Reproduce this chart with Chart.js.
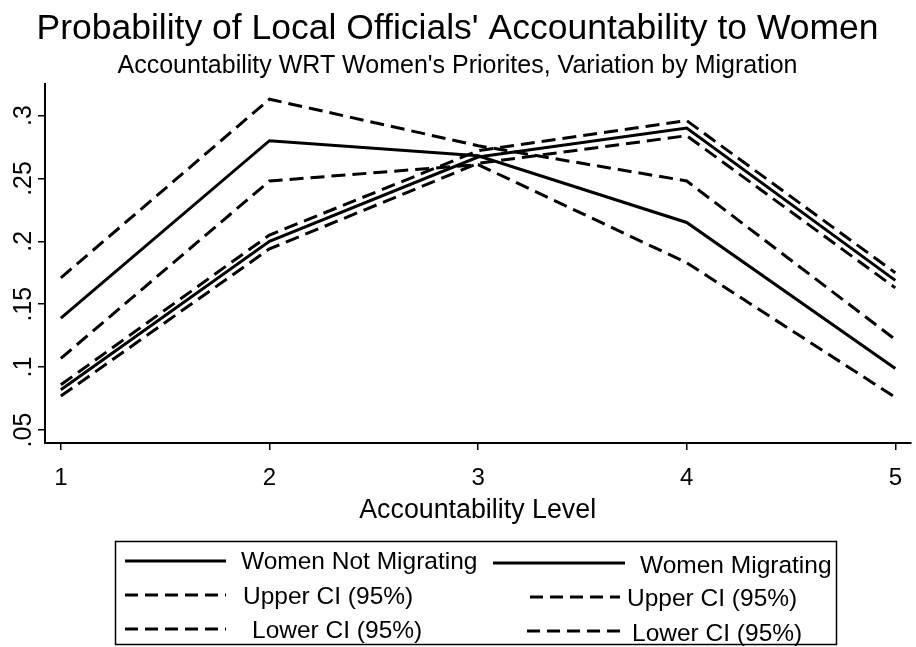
<!DOCTYPE html>
<html>
<head>
<meta charset="utf-8">
<title>Probability of Local Officials' Accountability to Women</title>
<script src="https://cdn.jsdelivr.net/npm/chart.js@4.4.1/dist/chart.umd.min.js"></script>
<style>
  html, body { margin: 0; padding: 0; background: #ffffff; }
  #wrap { width: 916px; height: 647px; }
  canvas { display: block; }
</style>
</head>
<body>
<div id="wrap"><canvas id="chart" width="916" height="647"></canvas></div>
<script>
// Accountability levels (x axis)
const levels = [1, 2, 3, 4, 5];

// Predicted probabilities, women not migrating
const notMigrating      = [0.139, 0.280, 0.268, 0.215, 0.099];
const notMigratingUpper = [0.171, 0.313, 0.276, 0.248, 0.122];
const notMigratingLower = [0.107, 0.248, 0.261, 0.183, 0.076];

// Predicted probabilities, women migrating
const migrating      = [0.082, 0.200, 0.267, 0.290, 0.169];
const migratingUpper = [0.086, 0.205, 0.272, 0.296, 0.175];
const migratingLower = [0.077, 0.194, 0.262, 0.284, 0.163];

// Axis ticks
const xTicks = [1, 2, 3, 4, 5];
const xTickLabels = ['1', '2', '3', '4', '5'];
const yTicks = [0.05, 0.10, 0.15, 0.20, 0.25, 0.30];
const yTickLabels = ['.05', '.1', '.15', '.2', '.25', '.3'];

// Series labels
const seriesLabels = ['Women Not Migrating', 'Upper CI (95%)', 'Lower CI (95%)',
                      'Women Migrating', 'Upper CI (95%)', 'Lower CI (95%)'];

const FONT = "'Liberation Sans', Arial, Helvetica, sans-serif";
const DASH = [14, 7];

function points(ys) {
  return levels.map((x, i) => ({ x: x, y: ys[i] }));
}

function series(label, ys, dashed) {
  return {
    label: label,
    data: points(ys),
    borderColor: '#000',
    backgroundColor: '#000',
    borderWidth: 3,
    borderDash: dashed ? DASH : [],
    borderCapStyle: 'butt',
    borderJoinStyle: 'miter',
    pointRadius: 0,
    pointHoverRadius: 0,
    tension: 0,
    fill: false
  };
}

// Framed two-column key drawn beneath the axis title
const boxLegend = {
  id: 'boxLegend',
  afterDraw(chart, args, opts) {
    const ctx = chart.ctx;
    ctx.save();
    ctx.strokeStyle = '#000';
    ctx.lineWidth = 1.5;
    const b = opts.box;
    ctx.strokeRect(b.x, b.y, b.w, b.h);
    ctx.font = opts.fontSize + 'px ' + FONT;
    ctx.fillStyle = '#000';
    ctx.textBaseline = 'middle';
    ctx.textAlign = 'left';
    opts.items.forEach(it => {
      const ds = chart.data.datasets[it.index];
      ctx.beginPath();
      ctx.lineWidth = 2.8;
      ctx.lineCap = 'butt';
      ctx.setLineDash(ds.borderDash && ds.borderDash.length ? opts.dash : []);
      ctx.moveTo(it.x1, it.ly);
      ctx.lineTo(it.x2, it.ly);
      ctx.stroke();
      ctx.setLineDash([]);
      ctx.fillText(ds.label, it.tx, it.ty);
    });
    ctx.restore();
  }
};

const ctx = document.getElementById('chart').getContext('2d');
new Chart(ctx, {
  type: 'line',
  data: {
    datasets: [
      series(seriesLabels[0], notMigrating, false),
      series(seriesLabels[1], notMigratingUpper, true),
      series(seriesLabels[2], notMigratingLower, true),
      series(seriesLabels[3], migrating, false),
      series(seriesLabels[4], migratingUpper, true),
      series(seriesLabels[5], migratingLower, true)
    ]
  },
  options: {
    responsive: false,
    animation: false,
    devicePixelRatio: 1,
    layout: { padding: { left: 0, right: 1, top: 0, bottom: 114 } },
    plugins: {
      legend: { display: false },
      tooltip: { enabled: false },
      title: {
        display: true,
        text: "Probability of Local Officials' Accountability to Women",
        color: '#000',
        font: { family: FONT, size: 35.5, weight: 'normal', lineHeight: 1.2 },
        padding: { top: 8, bottom: 0 }
      },
      subtitle: {
        display: true,
        text: "Accountability WRT Women's Priorites, Variation by Migration",
        color: '#000',
        font: { family: FONT, size: 25, weight: 'normal', lineHeight: 1.2 },
        padding: { top: 1, bottom: 2 }
      },
      boxLegend: {
        box: { x: 115.5, y: 541.5, w: 721, h: 103 },
        fontSize: 24.5,
        dash: [13, 7],
        items: [
          { index: 0, x1: 125, x2: 226, ly: 561, tx: 241, ty: 562 },
          { index: 1, x1: 125, x2: 226, ly: 595, tx: 243, ty: 597 },
          { index: 2, x1: 125, x2: 226, ly: 629, tx: 252, ty: 631 },
          { index: 3, x1: 493, x2: 625, ly: 563, tx: 640, ty: 566 },
          { index: 4, x1: 530, x2: 620, ly: 597, tx: 627, ty: 599 },
          { index: 5, x1: 527, x2: 620, ly: 631, tx: 632, ty: 634 }
        ]
      }
    },
    scales: {
      x: {
        type: 'linear',
        min: 0.924,
        max: 5.072,
        afterBuildTicks: s => { s.ticks = xTicks.map(v => ({ value: v })); },
        afterFit: s => { s.height = 90; },
        ticks: {
          autoSkip: false,
          maxRotation: 0,
          minRotation: 0,
          padding: 14,
          color: '#000',
          font: { family: FONT, size: 24 },
          callback: (v) => xTickLabels[xTicks.indexOf(v)]
        },
        grid: {
          drawOnChartArea: false,
          drawTicks: true,
          tickLength: 7,
          color: '#000',
          lineWidth: 1.5
        },
        border: { display: true, color: '#000', width: 2 },
        title: {
          display: true,
          text: 'Accountability Level',
          color: '#000',
          font: { family: FONT, size: 26.8, lineHeight: 1.2 },
          padding: { top: 0, bottom: 6 }
        }
      },
      y: {
        type: 'linear',
        min: 0.0397,
        max: 0.3254,
        afterBuildTicks: s => { s.ticks = yTicks.map(v => ({ value: v })); },
        afterFit: s => { s.width = 45; },
        ticks: {
          autoSkip: false,
          minRotation: 90,
          maxRotation: 90,
          crossAlign: 'center',
          padding: -3,
          color: '#000',
          font: { family: FONT, size: 25 },
          callback: (v) => {
            const i = yTicks.findIndex(t => Math.abs(t - v) < 1e-9);
            return i >= 0 ? yTickLabels[i] : '';
          }
        },
        grid: {
          drawOnChartArea: false,
          drawTicks: true,
          tickLength: 7,
          color: '#000',
          lineWidth: 1.5
        },
        border: { display: true, color: '#000', width: 2 }
      }
    }
  },
  plugins: [boxLegend]
});
</script>
</body>
</html>
